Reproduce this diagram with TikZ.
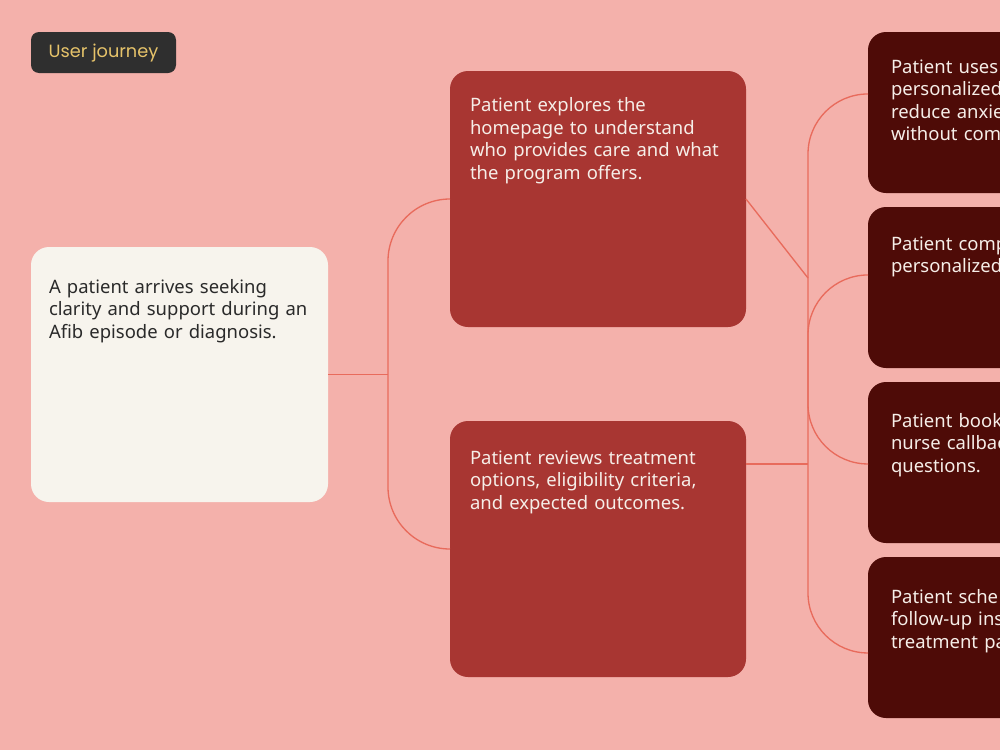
\documentclass[tikz,border=0pt]{standalone}
\usepackage{fontspec}
\setmainfont{Noto Sans}
\newfontfamily\tagfont{Poppins}
\definecolor{bgc}{HTML}{F4B1AB}
\definecolor{cream}{HTML}{F7F4ED}
\definecolor{redbox}{HTML}{A83632}
\definecolor{darkbox}{HTML}{4E0B07}
\definecolor{conn}{HTML}{E86B5C}
\definecolor{tagbg}{HTML}{2F2F2F}
\definecolor{tagtext}{HTML}{E6C36A}
\definecolor{darktext}{HTML}{2A2A2A}
\definecolor{lighttext}{HTML}{F6EEE8}
\tikzset{
  box/.style={inner sep=0pt, outer sep=0pt, rounded corners=13.5pt, anchor=north west},
  boxA/.style={box, fill=cream, minimum width=297*0.75pt, minimum height=255*0.75pt},
  boxB/.style={box, fill=redbox, minimum width=296*0.75pt, minimum height=256*0.75pt},
  boxC/.style={box, fill=darkbox, minimum width=200*0.75pt, minimum height=161*0.75pt},
  txt/.style={inner sep=0pt, outer sep=0pt, anchor=base west, align=left, text width=300pt,
    font=\fontsize{13.85}{16.9}\selectfont},
  txtdark/.style={txt, text=darktext},
  txtlight/.style={txt, text=lighttext},
  link/.style={draw=conn, line width=1pt},
}
\begin{document}
\begin{tikzpicture}[x=0.75pt, y=-0.75pt]
\useasboundingbox (0,0) rectangle (1000,750);
\clip (0,0) rectangle (1000,750);
\fill[bgc] (0,0) rectangle (1000,750);

% tag
\node[box, fill=tagbg, rounded corners=6pt, minimum width=145*0.75pt, minimum height=41*0.75pt] (tag) at (31,32) {};
\node[inner sep=0pt, text=tagtext, font=\tagfont\fontsize{13.3}{15}\selectfont] (tagt) at (103.5,53) {User journey};

% boxes
\node[boxA] (A) at (31,247) {};
\node[boxB] (B1) at (450,71) {};
\node[boxB] (B2) at (450,421) {};
\node[boxC] (C1) at (868,32) {};
\node[boxC] (C2) at (868,207) {};
\node[boxC] (C3) at (868,382) {};
\node[boxC] (C4) at (868,557) {};

% texts
\node[txtdark] (At) at (49,293) {A patient arrives seeking\\clarity and support during an\\Afib episode or diagnosis.};
\node[txtlight] (B1t) at (470,111.7) {Patient explores the\\homepage to understand\\who provides care and what\\the program offers.};
\node[txtlight] (B2t) at (470,464) {Patient reviews treatment\\options, eligibility criteria,\\and expected outcomes.};
\node[txtlight] (C1t) at (891,73) {Patient uses\\personalized\\reduce anxie\\without com};
\node[txtlight] (C2t) at (891,250) {Patient comp\\personalized};
\node[txtlight] (C3t) at (891,427) {Patient book\\nurse callbac\\questions.};
\node[txtlight] (C4t) at (891,603) {Patient sche\\follow-up ins\\treatment pa};

% connectors
\coordinate (jL) at (388,374.5);
\coordinate (jR1) at (808,278);
\coordinate (jR2) at (808,464);
\draw[link] (A.east) -- (jL);
\draw[link, rounded corners=46.5pt] (B1.west) -| (jL) |- (B2.west);
\draw[link] (B1.east) -- (jR1);
\draw[link] (B2.east |- jR2) -- (jR2);
\draw[link, rounded corners=45pt] ([yshift=13.9pt]C1.west) -| (jR1) |- ([yshift=-11.6pt]C4.west);
\draw[link, rounded corners=45pt] ([yshift=9.4pt]C2.west) -| (jR2) -- ([yshift=-1.1pt]C3.west);
\end{tikzpicture}
\end{document}
